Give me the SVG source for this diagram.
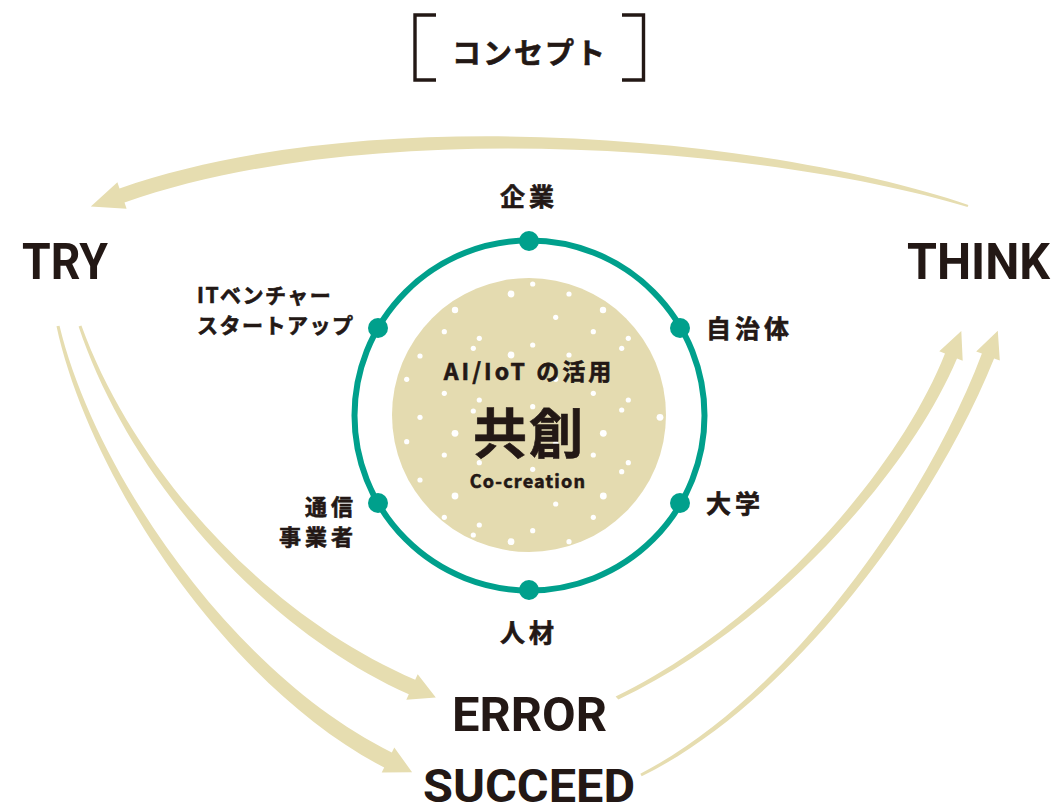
<svg xmlns="http://www.w3.org/2000/svg" width="1055" height="808" viewBox="0 0 1055 808">
<style>
.jp{font-family:"Noto Sans CJK JP","Noto Sans",sans-serif;font-weight:700;fill:#231815;stroke:#231815;stroke-width:0.6}
.en{font-family:Roboto,"Liberation Sans",sans-serif;font-weight:700;fill:#231815}
.arrow{fill:#e6ddb0}
.dot{fill:#00a08c}
.sp{fill:#ffffff}
</style>
<rect width="1055" height="808" fill="#ffffff"/>
<g id="title">
<path d="M436,15 H415 V80 H436 M622,15 H643.5 V80 H622" fill="none" stroke="#231815" stroke-width="3.4"/>
<text class="jp" x="452" y="64" font-size="29" letter-spacing="2">コンセプト</text>
</g>
<g id="connectors">
<path class="arrow" d="M968.4,204.9 C780.8,140.1 379.4,97.5 119.5,188.4 L117.4,182.3 L90.8,206.4 L126.6,208.7 L124.5,202.6 C380.6,112.5 779.2,149.9 967.6,207.1 Z"/>
<path class="arrow" d="M81.4,325.5 C133,468.2 264,614.8 415.2,679.7 L417.7,674.2 L435.8,697.5 L406.3,699.8 L408.8,694.3 C256,625.2 127,471.8 78.6,326.5 Z"/>
<path class="arrow" d="M59.5,325.7 C95.1,473.5 234.5,675.3 391.8,752.4 L394.3,747.5 L412.1,772.2 L381.7,772.5 L384.2,767.6 C225.5,684.7 88.9,476.5 56.5,326.3 Z"/>
<path class="arrow" d="M618.4,699.4 C761.8,632.4 904.1,482.9 957,358.5 L962.7,360.8 L961.3,331 L939.3,351.2 L945,353.5 C895.9,477.1 758.2,627.6 615.6,696.6 Z"/>
<path class="arrow" d="M641.7,776.3 C792,702.2 934.3,507.5 994.1,358.4 L999.8,360.6 L997.8,330.8 L976.2,351.4 L981.9,353.6 C925.7,502.5 788,697.8 640.3,773.7 Z"/>
</g>
<g id="try"><text class="en" x="22" y="279" font-size="50" textLength="86" lengthAdjust="spacingAndGlyphs">TRY</text></g>
<g id="think"><text class="en" x="907" y="279" font-size="50" textLength="143" lengthAdjust="spacingAndGlyphs">THINK</text></g>
<g id="error"><text class="en" x="452" y="731" font-size="48" textLength="155" lengthAdjust="spacingAndGlyphs">ERROR</text></g>
<g id="succeed"><text class="en" x="423" y="802" font-size="46" textLength="212" lengthAdjust="spacingAndGlyphs">SUCCEED</text></g>
<g id="center">
<circle cx="529" cy="415" r="137" fill="#e4dbb0"/>
<g class="sp">
<circle cx="532.7" cy="284" r="2.6"/><circle cx="511" cy="294" r="3.4"/><circle cx="569" cy="294" r="2.6"/>
<circle cx="455" cy="310" r="3.2"/><circle cx="555.7" cy="317.3" r="2.6"/><circle cx="603" cy="310" r="3.2"/>
<circle cx="444.3" cy="331.7" r="2.6"/><circle cx="479.3" cy="338.3" r="2.6"/><circle cx="593.3" cy="331.7" r="2.6"/>
<circle cx="628.3" cy="338.3" r="2.6"/><circle cx="473.3" cy="348.3" r="2.6"/><circle cx="532.7" cy="345" r="2.6"/>
<circle cx="511" cy="355" r="3.4"/><circle cx="621.7" cy="348.3" r="2.6"/><circle cx="420" cy="356" r="2.6"/>
<circle cx="569" cy="355" r="2.6"/><circle cx="406.7" cy="379.3" r="2.6"/><circle cx="555.7" cy="379.3" r="2.6"/>
<circle cx="444.3" cy="393.3" r="2.6"/><circle cx="479.3" cy="400" r="2.6"/><circle cx="593.3" cy="393.3" r="2.6"/>
<circle cx="628.3" cy="400" r="2.6"/><circle cx="532.7" cy="406.7" r="2.6"/><circle cx="621.7" cy="410" r="2.6"/>
<circle cx="660" cy="417.3" r="3.4"/><circle cx="420" cy="417.3" r="2.6"/><circle cx="473.3" cy="411" r="2.6"/>
<circle cx="455" cy="433.3" r="3.4"/><circle cx="603.3" cy="433.3" r="3.4"/><circle cx="406.7" cy="441.7" r="2.6"/>
<circle cx="555.7" cy="443.3" r="2.6"/><circle cx="444.3" cy="455" r="2.6"/><circle cx="593.3" cy="455" r="2.6"/>
<circle cx="479.3" cy="462.7" r="2.6"/><circle cx="628.3" cy="462.7" r="2.6"/><circle cx="621.7" cy="471.7" r="2.6"/>
<circle cx="532.7" cy="469.3" r="2.6"/><circle cx="420" cy="480" r="2.6"/><circle cx="455" cy="496" r="3.4"/>
<circle cx="603.3" cy="496" r="3.4"/><circle cx="555.7" cy="504" r="2.6"/><circle cx="444.3" cy="517.3" r="2.6"/>
<circle cx="593.3" cy="517.3" r="2.6"/><circle cx="479.3" cy="525" r="2.6"/><circle cx="532.7" cy="530.7" r="2.6"/>
<circle cx="511" cy="541.7" r="3.4"/><circle cx="569" cy="541.7" r="2.6"/><circle cx="473.3" cy="535" r="2.6"/>
</g>
<text class="jp" x="529" y="380" font-size="23" letter-spacing="3" text-anchor="middle">AI/IoT の活用</text>
<text class="jp" x="529" y="454" font-size="54" letter-spacing="2" text-anchor="middle">共創</text>
<text class="jp" x="528" y="488" font-size="18" letter-spacing="1.2" text-anchor="middle" stroke-width="0.3">Co-creation</text>
</g>
<g id="ring">
<circle cx="529.5" cy="415.5" r="175" fill="none" stroke="#00a08c" stroke-width="6"/>
</g>
<g id="node-kigyo">
<circle class="dot" cx="529" cy="241" r="10"/>
<text class="jp" x="500" y="206" font-size="25" letter-spacing="4">企業</text>
</g>
<g id="node-jichitai">
<circle class="dot" cx="680" cy="328" r="10"/>
<text class="jp" x="706" y="338" font-size="25" letter-spacing="4">自治体</text>
</g>
<g id="node-daigaku">
<circle class="dot" cx="680" cy="503" r="10"/>
<text class="jp" x="706" y="513" font-size="25" letter-spacing="4">大学</text>
</g>
<g id="node-jinzai">
<circle class="dot" cx="529" cy="590" r="10"/>
<text class="jp" x="500" y="642" font-size="25" letter-spacing="4">人材</text>
</g>
<g id="node-tsushin">
<circle class="dot" cx="378" cy="503" r="10"/>
<text class="jp" x="305" y="515" font-size="22" letter-spacing="4">通信</text>
<text class="jp" x="279" y="545" font-size="22" letter-spacing="4">事業者</text>
</g>
<g id="node-it">
<circle class="dot" cx="378" cy="328" r="10"/>
<text class="jp" x="197" y="303" font-size="21" letter-spacing="1.5">ITベンチャー</text>
<text class="jp" x="197" y="333" font-size="21" letter-spacing="1.5">スタートアップ</text>
</g>
</svg>
